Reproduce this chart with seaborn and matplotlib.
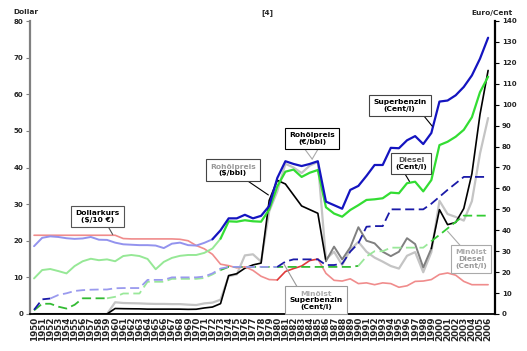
import matplotlib
matplotlib.use("Agg")
import matplotlib.pyplot as plt
import seaborn as sns
from matplotlib.offsetbox import TextArea, VPacker, AnnotationBbox

years = list(range(1950, 2007))

# left axis (Dollar)
dollarkurs = [21.5, 21.5, 21.5, 21.5, 21.5, 21.5, 21.5, 21.5, 21.5, 21.5,
              21.5, 20.6, 20.5, 20.5, 20.5, 20.5, 20.5, 20.5, 20.4, 20.0,
              18.7, 17.8, 16.3, 13.6, 13.2, 12.6, 12.9, 11.9, 10.3, 9.4,
              9.3, 11.6, 12.4, 13.1, 14.6, 15.0, 11.1, 9.2, 9.0, 9.6,
              8.3, 8.5, 8.0, 8.5, 8.3, 7.3, 7.7, 8.9, 9.0, 9.4,
              10.8, 11.2, 10.6, 8.9, 8.0, 8.0, 8.0]
rohoel_usd = [0, 0, 0, 0, 0, 0, 0, 0, 0, 0,
              1.50, 1.45, 1.42, 1.40, 1.33, 1.33, 1.33, 1.33, 1.32, 1.27,
              1.30, 1.65, 1.90, 2.83, 10.5, 11.0, 12.5, 13.4, 13.9, 31.0,
              36.5, 35.5, 32.5, 29.5, 28.5, 27.5, 14.4, 18.4, 14.9, 18.2,
              23.7, 20.0, 19.3, 17.0, 15.8, 17.0, 20.7, 19.1, 12.7, 17.9,
              28.5, 24.4, 25.0, 28.8, 38.3, 54.5, 66.5]
rohoel_eur = [0, 0, 0, 0, 0, 0, 0, 0, 0, 0,
              3.2, 3.0, 2.95, 2.9, 2.8, 2.75, 2.75, 2.7, 2.7, 2.55,
              2.45, 2.9, 3.1, 3.9, 10.3, 10.8, 16.0, 16.3, 14.3, 28.0,
              33.5, 41.0, 40.0, 38.5, 40.5, 41.5, 15.0, 17.0, 13.4, 17.5,
              19.7, 17.0, 15.4, 14.3, 13.1, 12.4, 15.9, 16.9, 11.4, 16.9,
              30.9, 27.3, 26.5, 25.5, 30.8, 43.8, 53.5]

# right axis (Euro/Cent)
superbenzin = [32.4, 36.4, 37.1, 36.8, 36.2, 35.9, 36.1, 36.8, 35.5, 35.4,
               34.1, 33.3, 33.1, 32.9, 32.9, 32.7, 31.5, 33.6, 34.1, 32.9,
               32.7, 34.0, 35.7, 40.0, 45.7, 45.7, 47.4, 45.7, 46.9, 51.6,
               65.0, 73.0, 71.7, 70.7, 71.7, 73.0, 53.7, 52.0, 50.3, 59.3,
               61.2, 66.0, 71.2, 71.2, 79.4, 79.2, 83.0, 85.0, 81.2, 86.5,
               101.5, 102.0, 104.5, 108.5, 114.0, 122.0, 132.0]
diesel = [17.0, 21.0, 21.5, 20.5, 19.4, 22.9, 25.2, 26.4, 25.7, 26.1,
          25.2, 27.7, 28.2, 27.7, 26.3, 21.4, 24.9, 26.8, 27.8, 28.2,
          28.2, 29.2, 31.3, 36.0, 44.3, 44.1, 44.8, 44.3, 44.1, 49.9,
          61.0, 68.0, 69.0, 65.5, 67.5, 68.8, 51.0, 48.0, 46.5, 49.7,
          52.0, 54.5, 54.8, 55.3, 58.0, 57.7, 62.5, 63.2, 58.6, 64.0,
          80.7, 82.3, 84.7, 88.0, 94.0, 106.0, 113.4]
steuer_super = [2.0, 7.0, 7.4, 9.1, 9.9, 11.0, 11.4, 11.6, 11.7, 11.7,
                12.3, 12.4, 12.4, 12.4, 16.3, 16.3, 16.3, 17.5, 17.5, 17.5,
                17.5, 17.9, 19.4, 21.7, 22.5, 22.5, 22.5, 22.5, 22.5, 22.5,
                22.5, 25.0, 26.1, 26.1, 26.1, 26.1, 23.4, 23.4, 24.0, 29.8,
                33.8, 41.7, 42.0, 42.0, 50.0, 50.0, 50.0, 50.0, 50.0, 52.7,
                56.0, 59.3, 62.4, 65.5, 65.5, 65.5, 65.5]
steuer_diesel = [1.75, 4.9, 4.9, 3.5, 2.6, 4.4, 7.5, 7.5, 7.5, 7.5,
                 8.2, 9.8, 9.8, 9.8, 15.4, 15.4, 15.4, 16.8, 16.8, 16.8,
                 16.8, 17.2, 18.9, 21.0, 22.5, 22.5, 22.5, 22.5, 22.5, 22.5,
                 22.5, 22.5, 22.5, 22.5, 22.5, 22.5, 22.5, 22.5, 22.5, 22.5,
                 23.0, 27.5, 30.0, 30.0, 31.7, 31.7, 31.7, 31.7, 31.7, 34.8,
                 37.8, 40.9, 44.0, 47.0, 47.0, 47.0, 47.0]

sns.set_style("white")
plt.rcParams['font.family'] = ['DejaVu Sans']
plt.rcParams['font.weight'] = 'bold'

fig = plt.figure(figsize=(5.27, 3.51), dpi=100)
ax = fig.add_axes([30/527, 1-314/351, 465/527, 293/351])
ax2 = ax.twinx()

DASH = (0, (5, 2.5))


def seg(a, vals, start, end, color, lw=1.4, ls='-', z=2):
    i0, i1 = years.index(start), years.index(end) + 1
    sns.lineplot(x=years[i0:i1], y=vals[i0:i1], ax=a, color=color,
                 linewidth=lw, linestyle=ls, zorder=z, errorbar=None)


# left axis lines
seg(ax, rohoel_eur, 1950, 2006, '#c4c4c4', lw=1.6, z=2)
seg(ax, rohoel_usd, 1950, 1986, '#000000', lw=1.2, z=3)
seg(ax, rohoel_usd, 1986, 1999, '#808080', lw=1.4, z=3)
seg(ax, rohoel_usd, 1999, 2006, '#000000', lw=1.2, z=3)
seg(ax, dollarkurs, 1950, 1980, '#f08c8c', lw=1.2, z=3)
seg(ax, dollarkurs, 1980, 1985, '#e03a3a', lw=1.2, z=3)
seg(ax, dollarkurs, 1985, 2006, '#f08c8c', lw=1.2, z=3)

# right axis lines
seg(ax2, steuer_diesel, 1950, 1959, '#33bb33', lw=1.3, ls=DASH, z=2)
seg(ax2, steuer_diesel, 1959, 1973, '#9ae89a', lw=1.3, ls=DASH, z=2)
seg(ax2, steuer_diesel, 1973, 1990, '#33bb33', lw=1.3, ls=DASH, z=2)
seg(ax2, steuer_diesel, 1990, 1999, '#9ae89a', lw=1.3, ls=DASH, z=2)
seg(ax2, steuer_diesel, 1999, 2006, '#33cc33', lw=1.3, ls=DASH, z=2)
seg(ax2, steuer_super, 1950, 1952, '#1a1aa8', lw=1.3, ls=DASH, z=3)
seg(ax2, steuer_super, 1952, 1980, '#9a9aee', lw=1.3, ls=DASH, z=3)
seg(ax2, steuer_super, 1980, 2006, '#1a1aa8', lw=1.3, ls=DASH, z=3)
seg(ax2, diesel, 1950, 1973, '#96e896', lw=1.4, z=4)
seg(ax2, diesel, 1973, 2006, '#33dd33', lw=1.6, z=4)
seg(ax2, superbenzin, 1950, 1972, '#9393ee', lw=1.4, z=5)
seg(ax2, superbenzin, 1972, 2006, '#1414c0', lw=1.6, z=5)

ax.set_xlim(1949.5, 2006.85)
ax.set_ylim(0, 80)
ax2.set_ylim(0, 140)
ax.set_xticks(years)
ax.set_xticklabels([str(y) for y in years], rotation=90, fontsize=6.3,
                   fontweight='bold')
ax.set_yticks(range(0, 81, 10))
ax.set_yticklabels([str(v) for v in range(0, 81, 10)], fontsize=5,
                   fontweight='bold')
ax2.set_yticks(range(0, 141, 10))
ax2.set_yticklabels([str(v) for v in range(0, 141, 10)], fontsize=5,
                    fontweight='bold')
ax.tick_params(axis='x', length=0, pad=2)
ax.tick_params(axis='y', length=3, width=0.8, color='#808080', pad=2)
ax2.tick_params(axis='y', length=3, width=0.8, color='black', pad=2)
for s in ['top', 'right']:
    ax.spines[s].set_visible(False)
for s in ['top', 'left', 'bottom']:
    ax2.spines[s].set_visible(False)
ax.spines['left'].set_color('#808080')
ax.spines['left'].set_linewidth(1.6)
ax.spines['bottom'].set_color('black')
ax.spines['bottom'].set_linewidth(1.3)
ax2.spines['right'].set_color('black')
ax2.spines['right'].set_linewidth(1.6)
ax.set_xlabel('')
ax.set_ylabel('')
ax2.set_ylabel('')

fig.text(13/527, 1-12.5/351, 'Dollar', ha='left', va='center', fontsize=5.3,
         fontweight='bold')
fig.text(267/527, 1-12.5/351, '[4]', ha='center', va='center', fontsize=5.3,
         fontweight='bold')
fig.text(513/527, 1-12.5/351, 'Euro/Cent', ha='right', va='center',
         fontsize=5.3, fontweight='bold')

FS = 5.4
R = 1.75  # left-axis units -> right-axis units


def box(x, y, lines, colors, ec, links, lc):
    for (x0, y0, x1, y1) in links:
        ax2.annotate('', xy=(x1, y1 * R), xytext=(x0, y0 * R),
                     arrowprops=dict(arrowstyle='-', color=lc, lw=0.8,
                                     shrinkA=0, shrinkB=0), zorder=9)
    rows = [TextArea(t, textprops=dict(fontsize=FS, fontweight='bold',
                                       color=c))
            for t, c in zip(lines, colors)]
    pack = VPacker(children=rows, align='center', pad=0, sep=0.6)
    ab = AnnotationBbox(pack, (x, y * R), xycoords='data', frameon=True,
                        pad=0.22, box_alignment=(0.5, 0.5),
                        bboxprops=dict(boxstyle='square', fc='white',
                                       ec=ec, lw=0.8))
    ab.set_zorder(10)
    ax2.add_artist(ab)


box(1957.8, 26.6, ['Dollarkurs', '($/10 €)'], ['black', 'black'], '#555555',
    [(1959.0, 24.4, 1959.7, 21.7)], '#555555')
box(1974.5, 39.3, ['Rohölpreis', '($/bbl)'], ['#999999', 'black'], '#444444',
    [(1976.1, 36.7, 1978.9, 32.5)], 'black')
box(1984.3, 47.9, ['Rohölpreis', '(€/bbl)'], ['black', 'black'], 'black',
    [(1983.3, 45.3, 1984.3, 42.3), (1985.1, 45.3, 1984.3, 42.3)], '#aaaaaa')
box(1995.1, 56.9, ['Superbenzin', '(Cent/l)'], ['black', 'black'], '#444444',
    [(1998.0, 54.3, 1999.1, 51.3)], 'black')
box(1996.5, 41.1, ['Diesel', '(Cent/l)'], ['#555555', 'black'], '#444444',
    [(1995.6, 38.8, 1996.3, 36.2)], 'black')
box(1984.8, 3.7, ['Minölst', 'Superbenzin', '(Cent/l)'],
    ['#aaaaaa', 'black', 'black'], '#999999',
    [(1982.4, 7.6, 1980.8, 13.7)], '#999999')
box(2003.9, 15.0, ['Minölst', 'Diesel', '(Cent/l)'],
    ['#aaaaaa', '#999999', '#999999'], '#aaaaaa',
    [(2002.6, 18.6, 2001.0, 22.6)], '#aaaaaa')

fig.savefig('out.png', dpi=100)
